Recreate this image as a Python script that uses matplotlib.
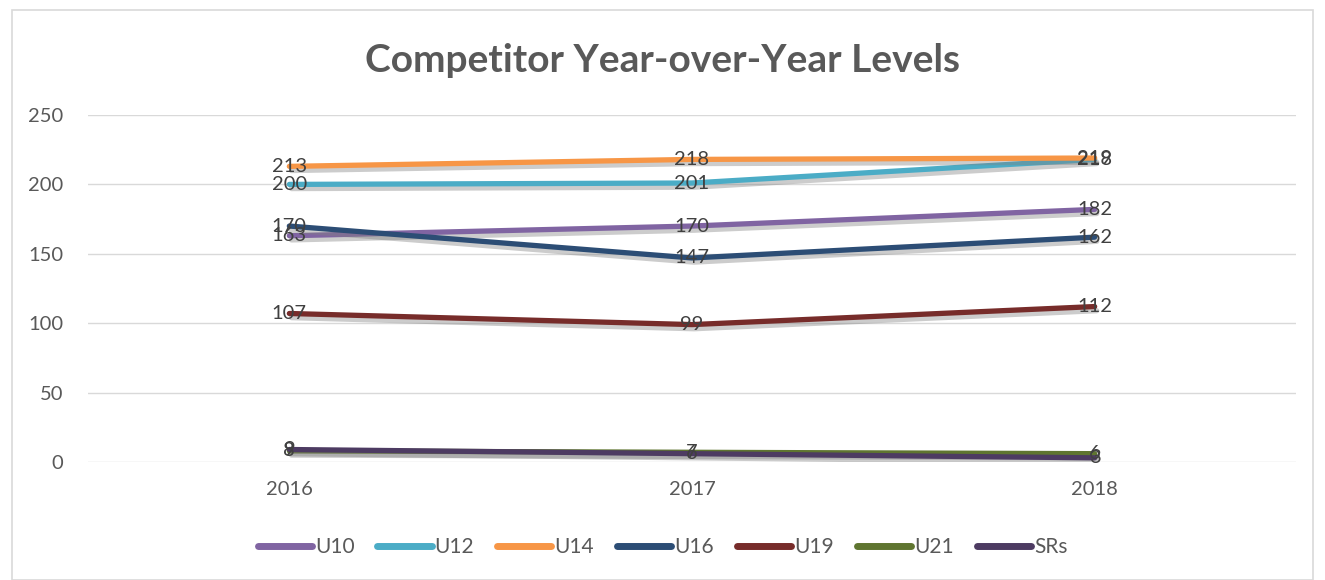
import matplotlib
matplotlib.use("Agg")
import matplotlib.pyplot as plt
import matplotlib.patheffects as pe
from matplotlib.patches import Rectangle

years = ["2016", "2017", "2018"]
series_names = ["U10", "U12", "U14", "U16", "U19", "U21", "SRs"]
u10 = [163, 170, 182]
u12 = [200, 201, 218]
u14 = [213, 218, 219]
u16 = [170, 147, 162]
u19 = [107, 99, 112]
u21 = [8, 7, 6]
srs = [9, 6, 3]
colors = ["#8064A2", "#4BACC6", "#F79646", "#2C4D75", "#772C2A", "#5F7530", "#4D3B62"]
yticks = [0, 50, 100, 150, 200, 250]

plt.rcParams['font.family'] = ['Lato', 'DejaVu Sans']

fig = plt.figure(figsize=(13.25, 5.8), dpi=100)
fig.patches.append(Rectangle((12/1325, 0), 1301/1325, 570/580, transform=fig.transFigure,
                             fill=False, edgecolor="#d9d9d9", linewidth=1.2))
ax = fig.add_axes([88/1325, 118/580, 1208/1325, 347/580])

x = list(range(len(years)))
data = [u10, u12, u14, u16, u19, u21, srs]
shadow = [pe.SimpleLineShadow(offset=(1.5, -3), shadow_color="gray", alpha=0.4, rho=0.5), pe.Normal()]
for name, vals, c in zip(series_names, data, colors):
    ax.plot(x, vals, color=c, linewidth=3.8, solid_capstyle="round", label=name, path_effects=shadow)
for vals in data:
    for xi, v in zip(x, vals):
        ax.text(xi, v, str(v), ha="center", va="center", fontsize=14.5, color="#404040", zorder=5)

ax.set_xlim(-0.5, 2.5)
ax.set_ylim(0, 250)
ax.set_yticks(yticks)
ax.set_xticks(x)
ax.set_xticklabels(years)
ax.tick_params(length=0, labelsize=14.5, labelcolor="#595959")
ax.tick_params(axis="y", pad=18)
ax.tick_params(axis="x", pad=14)
ax.grid(axis="y", color="#d9d9d9", linewidth=1)
ax.set_axisbelow(True)
for s in ax.spines.values():
    s.set_visible(False)

fig.text(0.5, 1 - 60/580, "Competitor Year-over-Year Levels", ha="center", va="center",
         fontsize=28, fontweight="bold", color="#595959")

leg_handles = [plt.Line2D([0], [0], color=c, linewidth=5, solid_capstyle="round") for c in colors]
fig.legend(leg_handles, series_names, loc="center", bbox_to_anchor=(0.5, 1 - 547/580), ncol=7,
           frameon=False, fontsize=15, labelcolor="#595959", handlelength=2.6, handletextpad=0.15,
           columnspacing=1.1)

fig.savefig("out.png", dpi=100)
